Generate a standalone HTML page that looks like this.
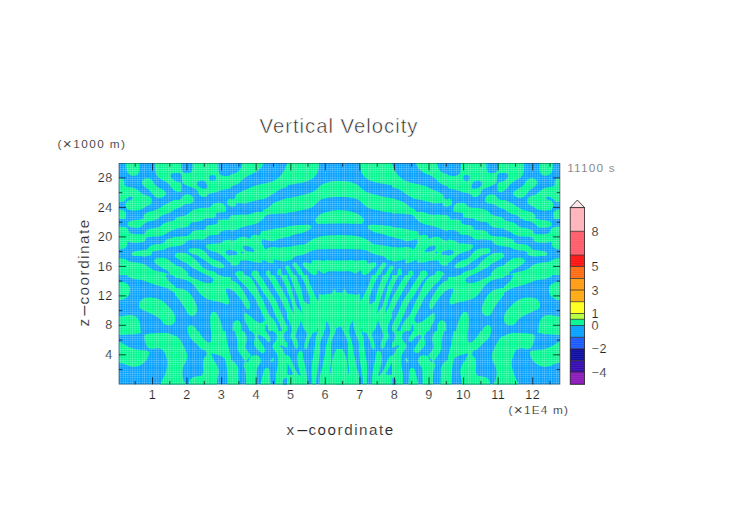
<!DOCTYPE html>
<html><head><meta charset="utf-8"><title>Vertical Velocity</title>
<style>
html,body{margin:0;padding:0;background:#fff}
body{width:752px;height:532px;overflow:hidden}
svg{display:block}
text{font-family:"Liberation Sans",sans-serif;fill:#262626;stroke:#fff;stroke-width:.16px;paint-order:fill stroke}
.t11{font-size:11.8px;letter-spacing:1.4px}
.tk{font-size:12.6px;letter-spacing:.5px}
</style></head><body>
<svg width="752" height="532" viewBox="0 0 752 532">
<defs>
<clipPath id="box"><rect x="118.6" y="163.0" width="441.4" height="221.6"/></clipPath>
<clipPath id="t0"><rect x="119" y="163" width="56" height="56"/></clipPath><clipPath id="t1"><rect x="175" y="163" width="56" height="56"/></clipPath><clipPath id="t2"><rect x="231" y="163" width="56" height="56"/></clipPath><clipPath id="t3"><rect x="287" y="163" width="56" height="56"/></clipPath><clipPath id="t4"><rect x="119" y="219" width="56" height="56"/></clipPath><clipPath id="t5"><rect x="175" y="219" width="56" height="56"/></clipPath><clipPath id="t6"><rect x="231" y="219" width="56" height="56"/></clipPath><clipPath id="t7"><rect x="287" y="219" width="56" height="56"/></clipPath><clipPath id="t8"><rect x="119" y="275" width="56" height="56"/></clipPath><clipPath id="t9"><rect x="175" y="275" width="56" height="56"/></clipPath><clipPath id="t10"><rect x="231" y="275" width="56" height="56"/></clipPath><clipPath id="t11"><rect x="287" y="275" width="56" height="56"/></clipPath><clipPath id="t12"><rect x="119" y="331" width="56" height="56"/></clipPath><clipPath id="t13"><rect x="175" y="331" width="56" height="56"/></clipPath><clipPath id="t14"><rect x="231" y="331" width="56" height="56"/></clipPath><clipPath id="t15"><rect x="287" y="331" width="56" height="56"/></clipPath>
<g id="half">
<g clip-path="url(#t0)">
<path d="M126.2 160.9L139.2 160.9C139.2 160.9 139.6 168.0 139.2 170.4C138.8 172.7 138.2 174.2 136.9 175.1C135.6 176.0 133.1 176.0 131.6 175.6C130.1 175.3 128.8 174.2 127.9 173.0C127.1 171.8 126.7 170.3 126.4 168.3C126.1 166.2 126.2 160.9 126.2 160.9Z" fill="#00f790"/>
<path d="M142.7 180.4C143.4 179.6 144.9 178.4 146.4 178.3C147.9 178.2 150.1 178.6 151.6 179.8C153.2 181.1 154.3 184.1 155.8 185.6C157.4 187.1 159.5 187.7 161.1 188.8C162.7 189.8 164.6 190.9 165.3 191.9C166.0 193.0 166.0 194.1 165.3 195.1C164.6 196.1 162.7 197.4 161.1 197.7C159.5 198.1 157.3 197.9 155.8 197.2C154.4 196.5 153.3 194.8 152.2 193.5C151.0 192.3 150.4 191.1 149.0 189.8C147.6 188.6 144.9 187.3 143.7 186.2C142.6 185.0 142.1 184.0 141.9 183.0C141.8 182.0 141.9 181.2 142.7 180.4Z" fill="#00f790"/>
<path d="M116.9 178.8C116.9 178.8 120.9 178.3 122.2 178.8C123.4 179.3 123.8 180.8 124.3 181.9C124.7 183.1 124.1 184.8 124.8 185.6C125.5 186.5 127.0 186.6 128.5 187.0C130.0 187.4 132.0 187.1 133.7 187.7C135.5 188.4 137.4 189.8 139.0 190.9C140.6 192.0 141.5 193.6 143.2 194.6C145.0 195.5 148.1 195.7 149.5 196.7C151.0 197.6 151.8 199.1 151.8 200.4C151.9 201.7 151.1 203.5 150.1 204.6C149.0 205.7 146.7 206.2 145.3 207.0C143.9 207.8 143.2 208.7 141.6 209.3C140.1 209.9 137.9 210.4 135.8 210.6C133.8 210.7 131.1 210.6 129.5 210.2C127.9 209.7 127.0 208.8 126.4 207.7C125.8 206.6 125.6 204.7 125.8 203.5C126.1 202.4 126.9 201.4 127.9 200.7C129.0 200.0 131.4 199.8 132.2 199.3C132.9 198.8 132.9 197.9 132.5 197.5C132.0 197.1 130.5 196.7 129.5 196.9C128.5 197.1 127.3 198.0 126.4 198.8C125.4 199.5 125.3 200.9 123.7 201.4C122.2 202.0 116.9 202.2 116.9 202.2L116.9 178.8Z" fill="#00f790"/>
<path d="M116.9 209.5C116.9 209.5 121.7 209.6 123.2 210.2C124.7 210.7 125.5 211.9 125.8 213.0C126.2 214.1 125.8 215.2 125.5 216.7C125.3 218.2 124.3 221.9 124.3 221.9L116.9 221.9L116.9 209.5Z" fill="#00f790"/>
<path d="M143.4 221.9C143.4 221.9 143.2 217.2 143.8 215.6C144.5 214.0 145.6 213.2 147.4 212.3C149.2 211.4 152.5 211.0 154.8 210.2C157.1 209.3 159.2 208.3 161.1 207.2C163.0 206.2 163.9 205.2 166.4 203.8C168.8 202.5 175.8 199.3 175.8 199.3L182.2 196.7L182.2 205.1L175.0 209.1C175.0 209.1 173.6 210.9 171.2 212.1C168.8 213.2 163.0 214.9 160.7 216.3C158.4 217.7 157.5 220.5 157.5 220.5L150.6 225.1L143.4 221.9Z" fill="#00f790"/>
<path d="M154.8 160.9C154.8 160.9 154.7 166.9 155.0 169.3C155.3 171.7 155.5 173.5 156.4 175.1C157.2 176.7 158.6 177.7 160.1 178.8C161.5 179.8 163.8 180.5 165.3 181.4C166.8 182.4 168.0 183.5 169.0 184.6C170.0 185.6 170.1 186.7 171.1 187.7C172.1 188.7 175.0 190.6 175.0 190.6L182.2 190.6L182.2 160.9L154.8 160.9Z" fill="#00f790"/>
<path d="M182.2 173.0C182.2 173.0 174.6 173.1 172.7 173.5C170.8 174.0 170.9 174.9 170.9 175.6C170.9 176.4 170.8 177.5 172.7 177.9C174.6 178.4 182.2 178.3 182.2 178.3L182.2 173.0Z" fill="#04a0ff"/>
<path d="M171.8 174.1C172.5 173.5 175.0 173.1 175.0 173.1L179.7 173.3L181.5 175.1L181.8 179.8L180.3 182.2L177.6 182.3L175.0 180.9C175.0 180.9 173.0 179.6 172.4 178.8C171.7 178.0 171.1 176.9 171.0 176.2C170.9 175.4 171.2 174.6 171.8 174.1Z" fill="#04a0ff"/>
</g>
<g clip-path="url(#t1)">
<path d="M172.9 160.9L238.2 160.9L238.2 188.1L231.8 188.1C231.8 188.1 225.9 189.2 223.4 189.8C221.0 190.5 219.6 191.2 217.1 191.9C214.6 192.6 210.4 193.3 208.7 194.1C206.9 194.8 207.6 196.0 206.6 196.5C205.5 196.9 203.7 197.1 202.4 196.7C201.1 196.3 199.5 195.0 198.7 194.1C197.9 193.1 198.4 191.9 197.6 190.9C196.8 189.9 195.7 189.2 193.9 188.3C192.2 187.4 188.8 186.3 186.9 185.4C185.0 184.5 183.5 183.9 182.6 182.8C181.7 181.7 183.1 179.5 181.5 178.8C179.9 178.1 172.9 178.8 172.9 178.8L172.9 160.9Z" fill="#00f790"/>
<path d="M171.8 174.1L175.0 173.1C175.0 173.1 178.6 173.0 179.7 173.3C180.8 173.6 181.2 174.0 181.5 175.1C181.9 176.2 182.1 178.7 181.8 179.8C181.6 181.0 181.0 181.8 180.3 182.2C179.6 182.6 178.5 182.5 177.6 182.3C176.8 182.1 175.0 180.9 175.0 180.9L172.4 178.8L171.0 176.2L171.8 174.1Z" fill="#04a0ff"/>
<path d="M171.8 178.8C171.8 178.8 174.8 180.9 176.3 181.5C177.7 182.2 179.6 182.1 180.5 182.6C181.4 183.1 181.3 183.7 181.5 184.6C181.7 185.4 181.7 186.7 181.6 187.7C181.6 188.8 181.6 190.3 181.1 191.0C180.6 191.7 179.6 192.0 178.4 191.9C177.2 191.9 173.9 190.9 173.9 190.9L171.8 189.3L171.8 178.8Z" fill="#00f790"/>
<path d="M181.1 159.8C181.1 159.8 181.0 166.2 181.3 168.3C181.6 170.3 182.0 171.1 182.9 171.9C183.8 172.8 185.3 173.3 186.6 173.3C187.9 173.4 189.8 173.0 190.8 172.3C191.8 171.5 192.1 170.9 192.4 168.8C192.6 166.7 192.5 159.8 192.5 159.8L181.1 159.8Z" fill="#04a0ff"/>
<path d="M218.2 159.8C218.2 159.8 218.2 167.0 218.4 169.3C218.6 171.6 218.8 172.5 219.4 173.5C220.1 174.6 221.2 175.2 222.4 175.6C223.6 176.1 225.1 176.2 226.6 176.2C228.0 176.1 231.0 175.1 231.0 175.1L238.2 174.6L238.2 159.8L218.2 159.8Z" fill="#04a0ff"/>
<path d="M209.2 177.7C209.2 177.0 209.7 176.1 210.3 175.6C210.8 175.2 211.9 174.9 212.7 174.9C213.5 174.9 214.6 175.3 215.2 175.8C215.8 176.4 216.1 177.2 216.2 177.9C216.2 178.6 215.9 179.6 215.3 180.1C214.7 180.5 213.5 180.9 212.7 180.9C211.8 180.9 210.8 180.7 210.3 180.2C209.7 179.6 209.2 178.5 209.2 177.7Z" fill="#04a0ff"/>
<path d="M197.6 181.9C198.2 181.2 199.6 180.5 200.8 180.4C202.0 180.3 203.9 180.6 205.0 181.4C206.1 182.2 206.8 184.0 207.1 185.1C207.4 186.2 207.2 187.6 206.6 188.3C206.0 188.9 204.6 189.0 203.4 188.8C202.3 188.6 200.8 187.8 199.7 187.2C198.7 186.6 197.7 186.0 197.3 185.1C197.0 184.2 197.1 182.7 197.6 181.9Z" fill="#04a0ff"/>
<path d="M172.9 200.1C172.9 200.1 177.6 200.4 179.2 199.8C180.8 199.3 181.3 197.6 182.4 196.7C183.4 195.8 184.3 194.9 185.5 194.6C186.8 194.3 188.4 194.3 189.7 194.8C191.1 195.3 192.8 196.7 193.4 197.7C194.1 198.8 194.2 199.9 193.7 200.9C193.3 201.9 192.2 203.0 190.8 203.5C189.4 204.1 187.3 203.6 185.5 204.3C183.8 204.9 182.4 206.3 180.3 207.2C178.2 208.1 172.9 209.8 172.9 209.8L172.9 200.1Z" fill="#00f790"/>
<path d="M168.7 221.9L175.0 219.4C175.0 219.4 175.5 218.1 177.5 217.3C179.5 216.5 184.7 215.7 187.0 214.7C189.3 213.6 189.4 212.1 191.2 211.0C193.1 209.9 195.1 209.0 198.2 208.4C201.2 207.8 207.1 208.1 209.7 207.3C212.4 206.5 212.0 204.3 213.9 203.6C215.9 202.9 219.4 202.6 221.3 203.1C223.2 203.6 224.6 205.4 225.3 206.8C226.0 208.2 226.4 210.7 225.5 211.6C224.7 212.6 221.8 212.1 220.3 212.5C218.7 212.8 216.9 212.8 216.1 213.6C215.2 214.4 216.9 216.4 215.0 217.3C213.1 218.2 206.6 218.0 204.5 218.9C202.4 219.8 202.4 222.6 202.4 222.6L190.8 226.2L168.7 226.2L168.7 221.9Z" fill="#00f790"/>
<path d="M238.2 198.3C238.2 198.3 231.6 198.2 229.7 198.8C227.9 199.4 227.4 200.9 227.1 201.9C226.8 203.0 227.5 204.4 228.2 205.1C228.8 205.8 231.0 206.4 231.0 206.4L238.2 206.7L238.2 198.3Z" fill="#00f790"/>
<path d="M228.3 219.8C228.3 219.8 229.2 217.3 229.8 216.7C230.5 216.1 232.4 216.2 232.4 216.2L238.2 216.2L238.2 221.9L228.3 219.8Z" fill="#00f790"/>
</g>
<g clip-path="url(#t2)">
<path d="M227.8 174.4C227.8 174.4 232.3 174.1 234.2 173.5C236.0 172.9 237.7 172.1 238.9 170.9C240.1 169.7 240.9 168.0 241.5 166.2C242.1 164.3 242.6 159.8 242.6 159.8L264.2 159.8C264.2 159.8 262.8 165.2 261.5 167.2C260.2 169.2 258.2 170.6 256.3 171.9C254.3 173.3 252.1 174.0 249.9 175.1C247.8 176.2 245.2 177.6 243.6 178.8C242.1 179.9 241.9 180.9 240.5 181.9C239.1 183.0 237.3 184.1 235.2 185.1C233.1 186.1 227.8 188.1 227.8 188.1L227.8 174.4Z" fill="#00f790"/>
<path d="M227.8 199.6C227.8 199.6 232.8 199.6 234.2 198.8C235.6 197.9 235.0 195.8 236.3 194.6C237.5 193.4 239.8 192.3 241.5 191.4C243.3 190.5 245.0 190.1 246.8 189.3C248.5 188.5 249.9 187.5 252.1 186.7C254.2 185.9 257.0 185.2 259.4 184.6C261.9 184.0 264.5 183.6 266.8 183.0C269.1 182.4 271.5 181.5 273.1 180.9C274.7 180.3 275.4 180.2 276.6 179.3C277.8 178.5 279.1 177.1 280.3 175.8C281.4 174.6 282.6 173.0 283.5 171.6C284.4 170.2 285.0 168.8 285.6 167.4C286.2 166.1 287.2 163.4 287.2 163.4L288.4 159.8L294.2 159.8L294.2 185.6L287.0 187.0C287.0 187.0 283.1 188.1 281.5 188.8C279.9 189.4 278.7 190.0 277.3 190.9C275.9 191.8 274.7 193.0 273.1 194.1C271.5 195.1 269.6 196.3 267.8 197.2C266.1 198.1 264.5 198.8 262.6 199.3C260.6 199.8 258.4 199.9 256.3 200.4C254.2 200.8 251.9 201.4 249.9 201.9C248.0 202.5 246.4 203.4 244.7 203.5C242.9 203.7 240.8 203.0 239.4 203.0C238.0 203.0 237.0 203.0 236.3 203.5C235.6 204.1 236.6 205.6 235.2 206.2C233.8 206.7 227.8 207.0 227.8 207.0L227.8 199.6Z" fill="#00f790"/>
<path d="M227.8 215.4C227.8 215.4 234.0 215.3 236.3 215.1C238.5 214.9 239.8 214.4 241.5 214.4C243.3 214.3 245.0 214.9 246.8 214.8C248.5 214.6 250.5 214.0 252.1 213.5C253.6 213.1 254.7 212.2 256.3 211.9C257.8 211.7 260.1 212.4 261.5 211.9C262.9 211.5 263.5 210.1 264.7 209.3C265.9 208.5 267.5 208.2 268.9 207.2C270.3 206.2 271.5 204.6 273.1 203.5C274.7 202.5 276.6 201.6 278.4 200.9C280.1 200.2 282.2 199.8 283.6 199.3C285.1 198.8 287.0 197.7 287.0 197.7L294.2 195.6L294.2 213.3L287.0 213.5C287.0 213.5 283.8 213.4 281.5 213.5C279.2 213.6 275.7 213.7 273.1 214.1C270.5 214.4 267.3 214.8 265.7 215.6C264.2 216.5 263.6 219.0 263.6 219.0L262.6 224.1L227.8 224.1L227.8 215.4Z" fill="#00f790"/>
</g>
<g clip-path="url(#t3)">
<path d="M283.8 167.2L290.2 159.8L319.1 159.8C319.1 159.8 318.9 166.0 318.6 168.3C318.2 170.5 317.9 171.9 317.0 173.5C316.1 175.1 314.8 176.5 313.3 177.7C311.8 179.0 310.3 180.0 308.1 180.9C305.8 181.8 302.3 182.4 299.6 183.0C297.0 183.6 294.9 184.1 292.3 184.6C289.6 185.0 283.8 185.6 283.8 185.6L283.8 167.2Z" fill="#00f790"/>
<path d="M283.8 198.8C283.8 198.8 290.5 197.7 293.3 197.2C296.1 196.7 298.2 196.2 300.7 195.6C303.1 195.0 305.8 194.3 308.1 193.5C310.3 192.7 312.6 191.9 314.4 190.9C316.1 189.8 317.2 188.4 318.6 187.2C320.0 186.1 321.0 184.9 322.8 184.1C324.5 183.2 327.0 182.4 329.1 181.9C331.2 181.5 331.9 181.3 335.4 181.1C338.9 180.9 350.2 180.9 350.2 180.9L350.2 196.7C350.2 196.7 339.1 196.7 335.4 196.9C331.7 197.1 330.3 197.3 328.1 197.7C325.8 198.1 323.5 198.5 321.7 199.3C320.0 200.1 318.9 201.3 317.5 202.5C316.1 203.6 314.9 205.1 313.3 206.2C311.7 207.2 310.2 208.1 308.1 208.8C305.9 209.5 303.1 209.8 300.7 210.4C298.2 210.9 296.1 211.5 293.3 211.9C290.5 212.4 283.8 213.0 283.8 213.0L283.8 198.8Z" fill="#00f790"/>
<path d="M314.9 226.2L315.4 220.9C315.4 220.9 316.2 218.3 317.1 217.1C318.0 215.9 319.0 214.9 321.0 213.9C323.0 213.0 326.8 212.1 328.9 211.5C330.9 211.0 329.8 210.8 333.3 210.6C336.9 210.4 350.2 210.2 350.2 210.2L350.2 226.2L314.9 226.2Z" fill="#00f790"/>
</g>
<g clip-path="url(#t4)">
<path d="M146.4 215.8C146.4 215.8 142.3 218.9 140.1 219.6C137.8 220.4 134.5 220.1 132.7 220.5C130.8 220.8 129.8 221.1 129.0 221.6C128.2 222.2 127.7 223.0 127.6 223.7C127.5 224.5 127.6 225.5 128.5 226.2C129.3 226.8 130.8 227.4 132.7 227.6C134.6 227.8 138.2 228.0 140.1 227.4C141.9 226.9 142.3 225.2 143.7 224.3C145.1 223.3 146.6 222.3 148.5 221.6C150.3 221.0 152.9 221.2 154.8 220.3C156.6 219.3 159.5 215.8 159.5 215.8L146.4 215.8Z" fill="#00f790"/>
<path d="M115.8 226.8C115.8 226.8 122.8 226.5 124.8 227.0C126.8 227.5 127.0 228.5 127.9 229.5C128.9 230.6 128.9 232.4 130.6 233.2C132.2 234.0 135.7 234.2 137.9 234.3C140.2 234.4 142.9 234.4 144.3 233.7C145.7 233.1 145.1 231.5 146.4 230.6C147.6 229.7 149.5 229.1 151.6 228.5C153.7 227.9 156.9 227.8 159.0 226.9C161.1 226.0 162.2 224.2 164.3 223.2C166.4 222.2 169.8 221.6 171.6 221.1C173.4 220.6 175.0 220.1 175.0 220.1L182.2 219.0L182.2 229.0L175.0 229.5C175.0 229.5 171.3 230.8 169.5 231.6C167.7 232.5 166.0 234.0 164.3 234.8C162.5 235.6 161.1 236.1 159.0 236.4C156.9 236.7 153.7 236.4 151.6 236.7C149.5 236.9 147.6 237.1 146.4 237.9C145.1 238.8 145.7 240.8 144.3 241.6C142.9 242.4 140.1 242.5 137.9 242.7C135.8 242.9 133.4 242.9 131.6 242.7C129.9 242.5 128.2 241.2 127.4 241.6C126.6 242.1 127.4 244.2 126.9 245.3C126.4 246.5 126.1 247.7 124.3 248.5C122.4 249.2 115.8 249.7 115.8 249.7L115.8 226.8Z" fill="#00f790"/>
<path d="M131.8 254.3C131.9 253.6 132.4 252.2 133.7 251.6C135.1 251.0 137.9 250.9 140.1 250.6C142.2 250.2 144.6 250.3 146.4 249.5C148.1 248.7 149.0 246.7 150.6 245.8C152.2 245.0 153.7 244.7 155.8 244.3C157.9 243.8 161.5 244.0 163.2 243.2C165.0 242.4 165.0 240.4 166.4 239.5C167.8 238.6 170.2 238.4 171.6 237.9C173.1 237.5 175.0 237.1 175.0 237.1L182.2 236.4L182.2 245.8L175.0 246.4C175.0 246.4 170.3 246.9 168.5 247.4C166.7 247.9 165.8 249.0 164.3 249.5C162.7 250.1 160.9 250.2 159.0 250.6C157.1 250.9 154.1 250.8 152.7 251.6C151.3 252.4 152.0 254.5 150.6 255.3C149.2 256.1 146.5 256.2 144.3 256.4C142.0 256.5 138.7 256.1 136.9 256.1C135.1 256.0 134.1 256.1 133.2 255.8C132.4 255.5 131.8 255.0 131.8 254.3Z" fill="#00f790"/>
<path d="M115.8 258.2C115.8 258.2 122.0 258.2 124.3 258.8C126.5 259.4 127.4 261.0 129.5 261.6C131.6 262.3 134.4 262.2 136.9 262.7C139.4 263.1 142.0 263.3 144.3 264.3C146.5 265.2 148.5 267.3 150.6 268.5C152.7 269.6 154.6 270.4 156.9 271.1C159.2 271.8 162.2 272.0 164.3 272.7C166.4 273.3 169.5 275.0 169.5 275.0L173.7 280.1L115.8 280.1L115.8 258.2Z" fill="#00f790"/>
<path d="M154.3 260.1C154.6 259.3 155.4 258.5 156.9 258.2C158.4 257.8 161.5 257.8 163.2 257.9C165.0 258.1 165.7 258.1 167.4 259.0C169.1 259.9 171.8 262.4 173.3 263.5C174.8 264.7 176.4 265.8 176.4 265.8L182.2 269.5L182.2 280.1L171.6 280.1C171.6 280.1 169.9 273.6 168.5 271.6C167.1 269.7 165.0 269.5 163.2 268.5C161.5 267.4 159.4 266.3 157.9 265.3C156.5 264.4 155.4 263.6 154.8 262.7C154.2 261.8 153.9 260.8 154.3 260.1Z" fill="#00f790"/>
</g>
<g clip-path="url(#t5)">
<path d="M171.8 215.8L205.0 215.8C205.0 215.8 204.7 219.1 203.4 220.1C202.1 221.1 199.1 221.4 197.1 221.8C195.1 222.3 192.8 222.0 191.3 222.7C189.8 223.4 189.8 225.3 188.2 226.2C186.5 227.0 184.0 227.5 181.3 227.9C178.6 228.4 171.8 229.0 171.8 229.0L171.8 215.8Z" fill="#00f790"/>
<path d="M171.8 236.7C171.8 236.7 178.5 236.6 181.3 236.4C184.1 236.1 186.8 236.1 188.7 235.3C190.5 234.5 190.8 232.5 192.4 231.6C193.9 230.8 196.1 230.4 198.2 230.1C200.2 229.7 203.0 230.4 204.5 229.7C206.0 229.0 205.7 226.7 207.1 225.8C208.5 225.0 211.2 225.2 212.9 224.8C214.6 224.4 216.2 224.2 217.1 223.4C218.0 222.7 217.4 220.9 218.4 220.3C219.4 219.6 221.4 219.8 223.0 219.6C224.6 219.5 227.1 219.8 228.3 219.3C229.4 218.8 229.8 216.7 229.8 216.7L231.0 215.8L238.2 215.8L238.2 229.5L231.0 230.1C231.0 230.1 226.3 230.2 224.5 230.6C222.7 230.9 221.3 231.5 220.3 232.2C219.2 232.9 219.7 234.3 218.2 234.8C216.6 235.3 212.7 234.9 210.8 235.3C208.9 235.8 207.8 236.7 206.6 237.4C205.4 238.1 205.4 239.2 203.4 239.5C201.5 239.9 197.6 239.4 195.0 239.5C192.4 239.7 189.4 239.9 187.6 240.6C185.9 241.3 185.9 242.9 184.5 243.7C183.1 244.6 181.3 245.4 179.2 245.8C177.1 246.3 171.8 246.6 171.8 246.6L171.8 236.7Z" fill="#00f790"/>
<path d="M206.6 244.8C207.5 244.1 209.6 244.0 211.8 243.7C214.1 243.5 218.2 243.7 220.3 243.2C222.4 242.7 222.7 241.2 224.5 240.6C226.3 240.0 231.0 239.5 231.0 239.5L238.2 239.0L238.2 265.3L231.0 263.2C231.0 263.2 229.1 262.3 227.6 261.1C226.2 259.9 224.1 257.2 222.4 255.8C220.6 254.4 219.2 253.6 217.1 252.7C215.0 251.8 211.5 251.4 209.7 250.6C207.9 249.7 206.9 248.6 206.4 247.6C205.8 246.7 205.7 245.4 206.6 244.8Z" fill="#00f790"/>
<path d="M238.2 249.7C238.2 249.7 230.8 249.7 228.7 250.1C226.6 250.4 225.9 250.9 225.5 251.6C225.2 252.3 225.7 253.6 226.6 254.3C227.5 255.0 231.0 255.8 231.0 255.8L238.2 256.9L238.2 249.7Z" fill="#04a0ff"/>
<path d="M188.7 250.1C188.9 249.4 189.2 248.5 190.8 248.3C192.4 248.0 196.1 248.1 198.2 248.5C200.3 248.9 202.0 249.7 203.4 250.6C204.8 251.5 205.4 252.5 206.6 253.7C207.8 255.0 209.0 256.8 210.8 257.9C212.5 259.1 215.2 259.6 217.1 260.6C219.0 261.5 221.1 262.8 222.4 263.7C223.6 264.7 224.5 265.7 224.5 266.4C224.5 267.1 223.6 267.7 222.4 267.9C221.1 268.2 218.9 268.1 217.1 267.6C215.4 267.2 213.6 266.3 211.8 265.3C210.1 264.3 208.3 262.8 206.6 261.6C204.8 260.5 202.9 259.5 201.3 258.5C199.7 257.4 198.7 256.1 197.1 255.3C195.5 254.5 193.2 254.3 191.8 253.7C190.5 253.2 189.7 252.8 189.2 252.2C188.7 251.5 188.4 250.7 188.7 250.1Z" fill="#00f790"/>
<path d="M174.8 255.1C174.8 255.1 175.7 253.3 177.5 253.0C179.4 252.7 183.5 252.8 185.9 253.5C188.4 254.2 190.3 255.9 192.3 257.2C194.2 258.5 195.7 259.7 197.5 261.4C199.3 263.2 201.0 266.2 203.0 267.7C205.0 269.3 207.7 269.8 209.7 270.6C211.7 271.3 213.6 271.4 215.0 272.2C216.4 272.9 218.2 275.0 218.2 275.0L221.3 281.1L210.8 281.1L206.8 275.1C206.8 275.1 203.3 273.4 201.5 272.5C199.8 271.6 198.0 270.8 196.3 269.8C194.5 268.9 192.5 267.9 191.0 266.9C189.5 265.8 188.7 264.6 187.0 263.5C185.3 262.4 182.6 261.5 180.7 260.4C178.8 259.3 176.4 257.8 175.4 256.9C174.4 256.0 174.8 255.1 174.8 255.1Z" fill="#00f790"/>
<path d="M171.8 265.1C171.8 265.1 177.1 265.6 179.2 266.4C181.3 267.1 183.0 268.3 184.5 269.5C186.0 270.8 187.3 271.8 188.2 273.7C189.0 275.7 189.7 281.1 189.7 281.1L171.8 281.1L171.8 265.1Z" fill="#00f790"/>
</g>
<g clip-path="url(#t6)">
<path d="M227.8 215.8L263.8 215.8L262.6 219.0C262.6 219.0 260.8 221.3 259.4 222.2C258.0 223.0 256.1 223.6 254.2 224.3C252.2 224.9 249.9 225.3 247.8 225.8C245.7 226.4 243.6 226.7 241.5 227.4C239.4 228.1 237.5 229.3 235.2 230.1C232.9 230.8 227.8 232.2 227.8 232.2L227.8 215.8Z" fill="#00f790"/>
<path d="M227.8 241.6C227.8 241.6 233.3 240.8 235.2 240.1C237.1 239.4 237.8 237.9 239.4 237.4C241.0 236.9 242.9 236.7 244.7 236.9C246.4 237.1 248.8 238.6 249.9 238.5C251.1 238.3 250.6 236.5 251.5 235.8C252.4 235.2 253.9 234.9 255.2 234.8C256.5 234.7 258.4 235.8 259.4 235.3C260.5 234.8 260.3 232.4 261.5 231.6C262.8 230.8 264.9 231.0 266.8 230.6C268.7 230.1 271.0 229.4 273.1 229.0C275.2 228.6 277.1 228.3 279.4 227.9C281.7 227.6 287.0 226.9 287.0 226.9L294.2 226.4L294.2 236.4L287.0 237.1C287.0 237.1 282.3 238.2 280.5 238.7C278.7 239.1 277.5 239.4 276.3 239.8C275.0 240.3 274.5 241.2 273.1 241.3C271.7 241.4 269.5 240.9 267.8 240.6C266.2 240.2 264.1 239.1 263.1 239.3C262.1 239.5 261.8 240.7 261.7 241.6C261.6 242.6 261.9 243.8 262.6 245.1C263.2 246.4 264.9 249.1 265.7 249.5C266.6 250.0 266.6 248.4 267.8 247.9C269.1 247.5 271.4 246.9 273.1 246.9C274.9 246.8 276.6 247.6 278.4 247.6C280.1 247.6 282.2 247.0 283.6 246.9C285.1 246.8 287.0 247.2 287.0 247.2L294.2 247.4L294.2 261.1L287.0 261.1C287.0 261.1 285.1 261.7 283.6 261.6C282.2 261.5 279.9 260.9 278.4 260.6C276.8 260.2 275.0 259.1 274.2 259.5C273.3 260.0 274.2 262.8 273.1 263.2C272.1 263.6 269.6 262.7 267.8 262.2C266.1 261.6 263.6 260.0 262.6 260.1C261.5 260.1 262.9 262.3 261.5 262.7C260.1 263.0 256.1 262.4 254.2 262.2C252.2 261.9 251.7 261.4 249.9 261.1C248.2 260.8 245.2 260.6 243.6 260.6C242.1 260.6 241.5 260.3 240.5 261.1C239.4 261.9 239.4 264.6 237.3 265.3C235.2 266.0 227.8 265.3 227.8 265.3L227.8 241.6Z" fill="#00f790"/>
<path d="M227.8 250.6C227.8 250.6 232.6 250.4 234.2 250.8C235.7 251.1 237.0 252.0 237.3 252.7C237.7 253.4 237.8 254.4 236.3 254.8C234.7 255.2 227.8 255.3 227.8 255.3L227.8 250.6Z" fill="#04a0ff"/>
<path d="M243.1 246.6C243.5 245.9 245.5 245.7 246.8 245.8C248.1 246.0 249.8 246.6 251.0 247.4C252.2 248.2 253.8 249.8 254.2 250.6C254.5 251.4 254.2 252.0 253.3 252.2C252.4 252.3 250.3 252.0 248.9 251.6C247.5 251.3 245.6 250.9 244.7 250.1C243.7 249.2 242.8 247.3 243.1 246.6Z" fill="#04a0ff"/>
<path d="M241.5 252.4L243.1 252.4" fill="none" stroke="#04a0ff" stroke-width="1.5" stroke-linecap="round" stroke-linejoin="round"/>
<path d="M234.2 280.1C234.2 280.1 234.3 274.7 235.2 273.2C236.1 271.7 238.0 271.2 239.4 271.1C240.8 271.0 242.8 271.2 243.6 272.7C244.5 274.2 244.7 280.1 244.7 280.1L234.2 280.1Z" fill="#00f790"/>
<path d="M251.0 280.1C251.0 280.1 251.4 273.7 252.1 272.2C252.8 270.6 254.1 270.5 255.2 270.6C256.4 270.7 258.2 271.1 258.9 272.7C259.6 274.3 259.4 280.1 259.4 280.1L251.0 280.1Z" fill="#00f790"/>
<path d="M265.2 280.1C265.2 280.1 265.7 273.2 266.3 271.6C266.8 270.1 267.7 270.5 268.4 270.6C269.1 270.7 270.0 270.6 270.5 272.2C270.9 273.7 271.0 280.1 271.0 280.1L265.2 280.1Z" fill="#00f790"/>
<path d="M276.8 280.1C276.8 280.1 277.1 272.5 277.5 270.6C278.0 268.6 278.8 268.5 279.4 268.5C280.1 268.5 280.9 268.6 281.3 270.6C281.8 272.5 282.1 280.1 282.1 280.1L276.8 280.1Z" fill="#00f790"/>
<path d="M287.4 267.6C288.0 268.7 289.7 271.6 290.9 273.8C292.1 276.1 293.9 280.1 294.5 281.3" fill="none" stroke="#00f790" stroke-width="4.2" stroke-linecap="round" stroke-linejoin="round"/>
</g>
<g clip-path="url(#t7)">
<path d="M315.2 215.8C315.2 215.8 315.0 219.8 315.4 221.1C315.8 222.4 316.1 223.3 317.5 223.7C318.9 224.2 321.0 223.9 323.8 223.8C326.6 223.8 330.0 223.6 334.4 223.5C338.8 223.4 350.2 223.2 350.2 223.2L350.2 215.8L315.2 215.8Z" fill="#00f790"/>
<path d="M283.8 226.9C283.8 226.9 289.6 226.1 292.3 225.8C294.9 225.5 297.0 225.3 299.6 225.1C302.3 224.9 306.1 224.6 308.1 224.8C310.0 225.0 310.8 225.8 311.2 226.4C311.6 227.0 311.2 227.8 310.7 228.5C310.2 229.2 309.4 229.9 308.1 230.6C306.7 231.3 304.5 232.2 302.8 232.7C301.0 233.2 299.3 233.3 297.5 233.7C295.8 234.2 293.7 234.8 292.3 235.3C290.9 235.8 290.5 236.4 289.1 236.7C287.7 236.9 283.8 236.9 283.8 236.9L283.8 226.9Z" fill="#00f790"/>
<path d="M283.8 247.4C283.8 247.4 287.9 246.7 290.2 246.4C292.4 246.0 295.1 245.7 297.5 245.3C300.0 245.0 303.0 244.9 304.9 244.3C306.8 243.6 307.7 242.5 309.1 241.6C310.5 240.8 311.7 239.8 313.3 239.0C314.9 238.2 316.6 237.4 318.6 236.9C320.5 236.4 322.6 236.1 324.9 235.8C327.2 235.6 328.1 235.4 332.3 235.3C336.5 235.2 350.2 235.1 350.2 235.1L350.2 249.0C350.2 249.0 336.6 249.0 332.3 249.0C327.9 249.0 326.3 249.1 323.8 249.2C321.4 249.3 319.5 249.3 317.5 249.5C315.6 249.8 313.8 250.1 312.3 250.6C310.7 251.1 309.6 252.0 308.1 252.7C306.5 253.4 304.5 254.3 302.8 254.8C301.0 255.3 299.1 255.4 297.5 255.8C295.9 256.3 294.4 256.7 293.3 257.4C292.3 258.1 292.8 259.5 291.2 260.1C289.6 260.6 283.8 260.6 283.8 260.6L283.8 247.4Z" fill="#00f790"/>
<path d="M287.4 267.6C288.0 268.7 289.7 271.6 290.9 273.8C292.1 276.1 293.9 280.1 294.5 281.3" fill="none" stroke="#00f790" stroke-width="4.2" stroke-linecap="round" stroke-linejoin="round"/>
<path d="M295.0 264.7C295.6 265.5 297.2 267.4 298.5 269.5C299.8 271.7 301.9 275.7 302.9 277.5C303.9 279.4 304.0 280.1 304.3 280.6" fill="none" stroke="#00f790" stroke-width="4.4" stroke-linecap="round" stroke-linejoin="round"/>
<path d="M302.8 264.1C302.8 263.4 303.0 262.5 303.8 262.4C304.7 262.2 306.8 262.8 308.1 263.0C309.3 263.2 310.4 263.9 311.2 263.5C312.0 263.1 311.6 261.1 312.8 260.6C314.0 260.0 316.7 260.2 318.6 260.3C320.4 260.3 322.4 260.9 323.8 260.9C325.2 260.9 325.6 260.1 327.0 260.1C328.4 260.0 328.4 260.5 332.3 260.6C336.1 260.7 350.2 260.6 350.2 260.6L350.2 271.2C350.2 271.2 340.3 271.2 337.0 271.2C333.7 271.2 332.3 271.1 330.6 271.2C328.9 271.3 328.0 271.6 326.9 271.9C325.8 272.3 324.9 273.4 323.8 273.4C322.8 273.4 321.8 272.4 320.8 271.9C319.8 271.5 318.5 270.2 317.8 270.5C317.2 270.8 317.7 273.1 317.1 273.8C316.5 274.6 314.1 275.1 314.1 275.1C314.1 275.1 311.5 274.1 310.3 273.1C309.0 272.1 307.7 270.5 306.6 269.3C305.5 268.2 304.2 267.1 303.5 266.3C302.9 265.4 302.7 264.7 302.8 264.1Z" fill="#00f790"/>
</g>
<g clip-path="url(#t8)">
<path d="M126.4 271.8L126.9 275.0C126.9 275.0 127.7 276.6 129.0 277.3C130.3 278.0 132.6 278.8 134.8 279.2C137.0 279.6 139.9 279.4 142.2 279.9C144.4 280.5 146.2 281.5 148.5 282.4C150.8 283.2 153.4 284.2 155.8 285.0C158.3 285.8 161.1 286.5 163.2 287.1C165.3 287.8 166.5 287.9 168.5 288.9C170.4 289.9 175.0 292.9 175.0 292.9L182.2 298.7L182.2 290.8L175.0 286.1C175.0 286.1 172.9 284.6 171.6 283.4C170.4 282.3 168.6 281.1 167.4 279.2C166.2 277.3 164.3 271.8 164.3 271.8L126.4 271.8Z" fill="#00f790"/>
<path d="M115.8 281.8C115.8 281.8 121.2 281.7 123.2 282.2C125.2 282.6 126.8 283.4 127.9 284.5C129.1 285.6 129.8 287.2 130.1 288.7C130.3 290.2 130.1 291.9 129.5 293.4C128.9 294.9 127.6 296.6 126.4 297.6C125.1 298.7 123.9 299.2 122.2 299.7C120.4 300.3 115.8 300.8 115.8 300.8L115.8 281.8Z" fill="#00f790"/>
<path d="M139.0 305.5C139.0 304.4 139.2 302.5 140.1 301.3C140.9 300.1 142.5 298.8 144.3 298.2C146.0 297.5 148.3 297.3 150.6 297.4C152.9 297.5 155.7 297.9 157.9 298.7C160.2 299.5 162.3 300.9 164.3 302.4C166.2 303.9 167.9 305.9 169.5 307.6C171.1 309.4 172.7 311.0 173.7 312.9C174.8 314.8 175.8 319.2 175.8 319.2C175.8 319.2 174.8 322.4 173.7 323.4C172.7 324.4 171.1 325.2 169.5 325.3C167.9 325.4 165.7 324.8 164.3 323.9C162.9 323.1 162.5 321.6 161.1 320.3C159.7 318.9 157.8 317.3 155.8 316.1C153.9 314.8 151.6 313.9 149.5 312.9C147.4 311.9 144.8 311.1 143.2 310.3C141.6 309.5 140.8 308.9 140.1 308.2C139.4 307.4 139.0 306.7 139.0 305.5Z" fill="#00f790"/>
<path d="M115.8 316.6C115.8 316.6 120.9 316.3 123.2 316.1C125.5 315.8 127.6 315.0 129.5 315.0C131.5 315.0 133.3 315.3 134.8 316.1C136.3 316.8 137.6 318.3 138.5 319.7C139.4 321.1 139.7 322.6 140.1 324.5C140.4 326.4 140.6 331.0 140.6 331.0L140.6 337.1L115.8 337.1L115.8 316.6Z" fill="#00f790"/>
<path d="M165.3 270.8L169.5 273.7C169.5 273.7 172.8 275.7 174.2 276.3C175.6 276.9 177.9 277.3 177.9 277.3L184.3 278.2L184.3 270.8L165.3 270.8Z" fill="#00f790"/>
</g>
<g clip-path="url(#t9)">
<path d="M171.8 271.8L185.0 271.8L186.9 275.0C186.9 275.0 189.4 276.2 191.0 276.9C192.6 277.6 194.5 278.6 196.3 279.3C198.0 280.1 199.8 280.8 201.5 281.4C203.3 282.0 205.0 282.8 206.8 283.0C208.5 283.2 210.9 282.9 212.1 282.5C213.2 282.1 213.6 281.4 213.6 280.6C213.6 279.8 213.2 278.6 212.1 277.7C210.9 276.8 208.4 276.1 206.8 275.1C205.2 274.1 202.4 271.8 202.4 271.8L238.2 271.8L238.2 289.2L231.0 289.2C231.0 289.2 227.4 288.0 226.6 288.5C225.8 288.9 225.8 290.4 226.1 291.8C226.3 293.3 227.6 295.5 228.2 297.1C228.7 298.7 229.3 300.1 229.2 301.3C229.1 302.6 228.9 304.5 227.6 304.7C226.3 304.9 223.6 303.2 221.3 302.6C219.0 301.9 216.4 301.5 213.9 300.9C211.5 300.2 208.7 299.7 206.6 298.7C204.5 297.7 202.9 296.5 201.3 295.0C199.7 293.5 198.3 291.3 197.1 289.7C195.9 288.2 195.4 286.9 193.9 285.5C192.5 284.1 190.8 282.4 188.7 281.3C186.6 280.2 184.1 279.5 181.3 278.8C178.5 278.1 171.8 277.3 171.8 277.3L171.8 271.8Z" fill="#00f790"/>
<path d="M216.6 272.9C216.6 272.9 220.0 275.5 222.4 276.3C224.8 277.0 231.0 277.3 231.0 277.3L238.2 277.1L238.2 270.8L216.6 272.9Z" fill="#04a0ff"/>
<path d="M171.8 287.6C171.8 287.6 176.1 287.8 178.2 288.2C180.3 288.5 182.5 288.9 184.5 289.7C186.4 290.6 188.2 291.8 189.7 293.4C191.3 295.0 192.8 297.2 193.9 299.2C195.1 301.2 196.1 303.6 196.6 305.5C197.1 307.5 197.4 309.2 197.1 310.8C196.8 312.4 196.1 314.2 195.0 315.0C193.9 315.8 192.0 316.2 190.8 315.8C189.6 315.5 188.7 314.3 187.6 312.9C186.6 311.5 185.7 309.6 184.5 307.6C183.2 305.7 181.7 303.2 180.3 301.3C178.9 299.4 177.5 297.5 176.1 296.1C174.6 294.6 171.8 292.9 171.8 292.9L171.8 287.6Z" fill="#00f790"/>
<path d="M210.3 317.1C210.4 315.4 210.7 314.3 211.3 313.4C211.9 312.5 213.0 311.8 213.9 311.8C214.9 311.9 216.1 312.7 217.1 313.9C218.1 315.2 218.9 317.3 219.7 319.2C220.5 321.1 221.3 323.6 221.8 325.5C222.4 327.5 222.9 331.0 222.9 331.0L223.4 337.1L211.3 337.1L210.8 331.0C210.8 331.0 210.4 325.7 210.3 323.4C210.2 321.1 210.1 318.8 210.3 317.1Z" fill="#00f790"/>
<path d="M187.6 331.0C187.6 331.0 187.6 328.1 188.2 327.1C188.7 326.1 189.8 325.1 190.8 325.0C191.8 324.9 193.0 325.8 193.9 326.6C194.9 327.4 196.0 328.0 196.6 329.7C197.2 331.5 197.6 337.1 197.6 337.1L187.1 337.1L187.6 331.0Z" fill="#00f790"/>
</g>
<g clip-path="url(#t10)">
<path d="M227.8 279.7C227.8 279.7 232.2 280.4 234.2 281.3C236.1 282.3 237.8 283.8 239.4 285.5C241.0 287.3 242.2 289.6 243.6 291.8C245.0 294.1 246.8 297.1 247.8 299.2C248.9 301.3 249.7 303.0 249.9 304.5C250.2 306.0 249.9 307.4 249.4 308.2C249.0 308.9 248.1 309.6 247.3 309.2C246.5 308.8 245.6 307.0 244.7 305.5C243.7 304.0 242.8 302.0 241.5 300.3C240.3 298.5 238.7 296.6 237.3 295.0C235.9 293.4 234.7 291.8 233.1 290.8C231.5 289.8 227.8 289.2 227.8 289.2L227.8 279.7Z" fill="#00f790"/>
<path d="M241.5 271.8L245.0 275.0C245.0 275.0 248.2 275.9 249.6 277.0C251.1 278.1 252.6 280.0 253.7 281.7C254.9 283.5 255.7 285.6 256.7 287.5C257.6 289.5 258.4 291.4 259.4 293.4C260.4 295.5 261.7 297.8 262.6 299.7C263.5 301.6 264.1 303.1 264.9 304.9C265.7 306.7 266.4 308.9 267.2 310.7C268.0 312.4 268.6 314.1 269.6 315.4C270.6 316.8 272.1 317.7 273.1 318.9C274.1 320.1 274.7 321.1 275.4 322.4C276.1 323.6 276.7 325.2 277.2 326.5C277.7 327.8 278.1 328.3 278.4 330.1C278.6 331.8 278.9 337.1 278.9 337.1L268.4 337.1C268.4 337.1 268.5 332.0 268.4 330.1C268.2 328.1 267.8 326.4 267.3 325.5C266.9 324.6 266.1 324.4 265.7 324.8C265.4 325.1 265.3 325.6 265.2 327.6C265.1 329.7 265.2 337.1 265.2 337.1L249.1 337.1C249.1 337.1 249.4 332.0 249.1 330.1C248.8 328.1 248.0 326.7 247.3 325.3C246.6 323.9 245.5 322.9 245.0 321.5C244.5 320.2 244.2 318.6 244.2 317.1C244.2 315.6 244.3 313.2 245.0 312.8C245.7 312.4 247.2 313.9 248.5 314.8C249.7 315.7 251.2 317.1 252.6 318.3C253.9 319.4 255.3 320.7 256.7 321.5C258.1 322.3 259.6 322.9 260.8 323.0C262.0 323.1 263.1 322.5 263.7 321.8C264.4 321.2 264.8 320.2 264.6 318.9C264.4 317.6 263.3 315.8 262.6 314.3C261.9 312.7 261.1 311.1 260.3 309.5C259.5 308.0 258.6 306.5 257.8 304.9C257.1 303.3 256.6 301.4 255.7 299.7C254.9 298.1 253.6 296.5 252.6 295.0C251.5 293.5 250.7 292.4 249.4 290.8C248.2 289.2 246.7 287.3 245.0 285.5C243.3 283.8 241.2 282.5 239.4 280.3C237.6 278.0 234.2 271.8 234.2 271.8L241.5 271.8Z" fill="#00f790"/>
<path d="M253.8 272.9C254.6 273.9 257.0 276.7 258.5 278.8C259.9 280.8 261.2 283.0 262.6 285.2C263.9 287.4 265.4 290.1 266.7 292.2C268.0 294.2 269.4 296.0 270.5 297.6C271.5 299.2 272.3 300.4 273.1 301.8C273.9 303.3 274.5 304.9 275.2 306.6C275.9 308.2 276.6 310.2 277.3 311.8C278.0 313.5 278.7 314.8 279.5 316.6C280.3 318.3 281.3 320.7 282.1 322.4C282.8 324.0 283.3 325.2 283.8 326.5C284.4 327.8 284.6 328.3 285.1 330.1C285.6 331.8 286.5 335.9 286.8 337.1" fill="none" stroke="#00f790" stroke-width="6.1" stroke-linecap="round" stroke-linejoin="round"/>
<path d="M268.4 272.9C269.0 273.7 270.8 275.9 271.9 277.6C273.1 279.4 274.3 281.5 275.4 283.5C276.6 285.6 277.7 287.8 278.9 289.9C280.1 292.1 281.4 294.4 282.4 296.3C283.4 298.1 284.0 299.3 284.8 301.0C285.6 302.7 286.5 304.8 287.3 306.6C288.2 308.4 289.2 310.1 289.9 311.8C290.7 313.6 291.7 316.2 292.1 317.1" fill="none" stroke="#00f790" stroke-width="5.9" stroke-linecap="round" stroke-linejoin="round"/>
<path d="M279.5 269.9C280.1 270.7 281.9 273.0 283.0 274.7C284.1 276.4 284.9 278.0 285.9 279.9C286.9 281.9 288.0 284.2 289.0 286.4C290.0 288.5 291.5 291.8 292.1 292.9" fill="none" stroke="#00f790" stroke-width="5.9" stroke-linecap="round" stroke-linejoin="round"/>
<path d="M232.6 337.1C232.6 337.1 232.5 327.1 232.9 324.5C233.2 321.8 233.9 322.0 234.7 321.3C235.5 320.6 236.6 320.0 237.5 320.3C238.5 320.5 239.8 321.7 240.5 322.9C241.1 324.1 241.3 325.3 241.5 327.6C241.8 330.0 242.1 337.1 242.1 337.1L232.6 337.1Z" fill="#00f790"/>
</g>
<g clip-path="url(#t11)">
<path d="M281.7 269.7L355.4 269.7L355.4 343.4L281.7 343.4L281.7 269.7Z" fill="#00f790"/>
<path d="M283.8 285.5L287.0 290.3C287.0 290.3 288.5 293.7 289.2 295.5C289.9 297.3 290.6 299.0 291.2 301.0C291.8 303.0 292.3 305.5 292.8 307.6C293.2 309.8 294.0 313.4 293.9 313.9C293.9 314.5 292.9 311.8 292.3 310.8C291.6 309.7 290.8 309.0 290.2 307.6C289.5 306.2 289.0 303.8 288.5 302.4C287.9 301.0 287.0 299.3 287.0 299.3L283.8 295.0L283.8 285.5Z" fill="#04a0ff"/>
<path d="M283.8 271.8L288.5 273.0C288.5 273.0 290.5 278.0 291.5 280.5C292.5 283.0 293.5 285.4 294.5 288.1C295.5 290.7 296.6 293.8 297.5 296.3C298.4 298.8 299.1 301.0 299.7 303.1C300.4 305.2 300.8 307.3 301.2 309.1C301.6 310.9 302.6 313.6 302.4 313.7C302.1 313.8 300.5 310.9 299.6 309.7C298.7 308.6 297.9 308.5 297.0 306.8C296.1 305.1 295.3 301.8 294.5 299.3C293.7 296.8 293.0 294.4 292.3 291.8C291.5 289.3 290.9 286.6 290.1 284.3C289.2 281.9 287.0 277.8 287.0 277.8L283.8 273.9L283.8 271.8Z" fill="#04a0ff"/>
<path d="M295.3 271.8C295.3 271.8 296.7 277.3 297.5 279.7C298.3 282.2 299.4 284.2 300.2 286.6C301.0 289.0 301.7 291.7 302.4 294.1C303.0 296.4 303.2 299.3 303.9 300.8C304.7 302.3 306.1 302.6 307.0 303.2C307.9 303.8 308.9 304.6 309.3 304.3C309.8 303.9 309.7 302.4 309.7 301.3C309.8 300.2 309.9 299.4 309.5 297.8C309.2 296.3 308.4 294.1 307.6 291.8C306.9 289.6 305.9 286.5 305.0 284.3C304.1 282.0 303.0 280.3 302.1 278.3C301.1 276.2 299.4 271.8 299.4 271.8L295.3 271.8Z" fill="#04a0ff"/>
<path d="M306.2 271.8C306.2 271.8 308.0 278.0 308.8 280.5C309.6 282.9 310.2 284.7 311.0 286.6C311.8 288.5 312.6 290.2 313.3 291.8C314.1 293.5 314.7 294.8 315.5 296.3C316.3 297.8 317.6 300.6 318.2 300.8C318.7 301.0 318.5 298.8 318.6 297.6C318.7 296.5 318.8 294.7 318.9 294.1C319.0 293.4 318.7 293.5 319.3 293.6C319.9 293.8 321.1 294.7 322.4 294.8C323.6 294.9 325.2 294.4 326.8 294.1C328.4 293.7 330.9 293.6 332.1 292.9C333.2 292.2 333.1 290.5 333.6 289.9C334.1 289.4 334.7 289.2 335.1 289.5C335.5 289.9 335.5 291.6 336.3 292.2C337.0 292.7 337.3 292.6 339.6 292.6C341.9 292.5 350.2 291.8 350.2 291.8L350.2 271.8L306.2 271.8Z" fill="#04a0ff"/>
<path d="M283.8 317.1L287.0 317.9C287.0 317.9 288.5 319.9 289.2 321.3C289.9 322.8 290.7 325.0 291.1 326.6C291.5 328.2 291.5 331.0 291.5 331.0L291.2 338.2L283.8 338.2L283.8 317.1Z" fill="#04a0ff"/>
<path d="M300.9 320.9C301.3 320.1 301.3 320.2 301.6 321.3C302.0 322.4 302.5 325.7 303.1 327.3C303.7 328.9 305.0 331.0 305.0 331.0L306.5 338.2L295.4 338.2L296.8 331.0C296.8 331.0 298.3 327.5 299.0 325.8C299.7 324.2 300.5 321.6 300.9 320.9Z" fill="#04a0ff"/>
<path d="M317.4 328.3C317.7 327.8 317.9 328.8 317.9 329.7C318.0 330.7 317.8 333.9 317.8 333.9L317.0 338.2L312.3 338.2L313.3 334.1L316.4 332.6C316.4 332.6 317.2 328.7 317.4 328.3Z" fill="#04a0ff"/>
<path d="M326.5 320.9C326.7 319.9 326.5 320.5 326.9 321.3C327.3 322.1 328.5 324.2 329.1 325.8C329.7 327.5 330.3 331.0 330.3 331.0L331.2 338.2L321.7 338.2L323.8 333.3C323.8 333.3 324.9 329.4 325.3 327.3C325.8 325.2 326.2 321.9 326.5 320.9Z" fill="#04a0ff"/>
<path d="M335.4 338.2L335.9 331.8C335.9 331.8 337.0 328.5 337.5 327.6C338.0 326.7 338.4 326.5 338.9 326.4C339.4 326.3 340.0 326.7 340.7 327.1C341.4 327.5 343.0 328.7 343.0 328.7L350.2 329.7L350.2 338.2L335.4 338.2Z" fill="#04a0ff"/>
<path d="M335.1 326.6L335.2 327.0" fill="none" stroke="#04a0ff" stroke-width="0.8" stroke-linecap="round" stroke-linejoin="round"/>
</g>
<g clip-path="url(#t12)">
<path d="M115.8 327.8L141.9 327.8L141.6 331.0C141.6 331.0 141.2 332.6 140.1 333.1C138.9 333.6 137.2 333.9 134.8 334.2C132.3 334.4 128.5 334.5 125.3 334.7C122.2 334.9 115.8 335.2 115.8 335.2L115.8 327.8Z" fill="#00f790"/>
<path d="M115.8 341.0C115.8 341.0 119.4 341.8 121.1 342.6C122.9 343.4 124.4 344.8 126.4 345.7C128.3 346.7 130.4 347.7 132.7 348.4C135.0 349.1 137.8 349.6 140.1 349.9C142.3 350.3 144.9 350.1 146.4 350.5C147.9 350.8 148.6 351.1 149.0 352.1C149.4 353.0 149.0 354.8 148.5 356.3C147.9 357.8 147.1 359.6 145.8 361.0C144.6 362.4 142.9 363.7 141.1 364.7C139.3 365.6 136.9 366.6 134.8 366.8C132.7 367.0 130.4 366.3 128.5 365.7C126.5 365.2 125.3 364.2 123.2 363.6C121.1 363.0 115.8 362.1 115.8 362.1L115.8 341.0Z" fill="#00f790"/>
<path d="M144.3 337.3C144.3 336.0 144.3 335.3 145.3 334.7C146.4 334.1 147.6 333.9 150.6 333.6C153.6 333.4 160.1 333.1 163.2 333.1C166.4 333.1 167.6 333.1 169.5 333.6C171.5 334.1 175.0 336.1 175.0 336.1L182.2 338.4L182.2 389.9L159.5 389.9C159.5 389.9 160.3 384.9 161.1 382.6C161.9 380.3 163.4 378.4 164.3 376.3C165.1 374.2 165.8 372.2 166.4 369.9C166.9 367.7 167.5 364.9 167.4 362.6C167.3 360.3 166.5 358.3 165.8 356.3C165.1 354.2 164.4 351.8 163.2 350.5C162.1 349.2 160.8 348.6 159.0 348.4C157.2 348.1 154.5 349.0 152.7 348.9C150.8 348.8 149.2 348.9 147.9 347.8C146.7 346.8 145.9 344.3 145.3 342.6C144.7 340.8 144.3 338.6 144.3 337.3Z" fill="#00f790"/>
</g>
<g clip-path="url(#t13)">
<path d="M171.8 335.7C171.8 335.7 175.5 335.8 177.1 336.8C178.7 337.8 180.0 339.5 181.3 341.5C182.6 343.5 184.0 346.6 185.0 348.9C186.0 351.2 186.9 353.1 187.1 355.2C187.3 357.3 186.7 359.6 186.1 361.5C185.4 363.5 184.0 364.9 183.4 366.8C182.8 368.7 182.4 371.0 182.4 373.1C182.4 375.2 182.9 377.6 183.4 379.4C183.9 381.2 185.0 382.0 185.5 383.9C186.1 385.9 186.6 391.0 186.6 391.0L171.8 391.0L171.8 335.7Z" fill="#00f790"/>
<path d="M187.6 327.8C187.6 327.8 187.6 331.4 188.2 333.1C188.7 334.9 189.5 336.6 190.8 338.4C192.1 340.1 194.3 341.9 196.1 343.6C197.8 345.4 199.7 347.7 201.3 348.9C202.9 350.1 204.6 349.8 205.5 350.8C206.4 351.8 206.8 353.4 206.6 354.7C206.3 355.9 204.6 356.5 203.9 358.4C203.3 360.2 203.0 363.5 202.9 365.7C202.8 368.0 203.5 370.4 203.2 372.1C202.9 373.7 202.3 375.0 201.3 375.7C200.3 376.4 198.6 375.9 197.1 376.3C195.6 376.6 193.7 377.0 192.4 377.8C191.1 378.7 189.9 379.3 189.2 381.5C188.5 383.7 188.2 391.0 188.2 391.0L216.6 391.0C216.6 391.0 216.7 386.1 216.9 383.9C217.1 381.8 217.3 380.2 217.6 378.4C217.9 376.6 218.6 374.8 218.7 373.1C218.8 371.4 218.7 369.9 218.4 368.4C218.0 366.9 217.4 365.6 216.6 364.2C215.8 362.7 214.2 360.9 213.4 359.4C212.6 357.9 212.2 356.2 211.8 355.2C211.5 354.2 210.4 353.7 211.3 353.6C212.2 353.5 215.3 354.2 217.1 354.7C218.9 355.2 221.0 355.8 222.4 356.8C223.8 357.8 224.8 358.8 225.5 360.5C226.2 362.1 226.3 364.7 226.6 366.8C226.8 368.9 226.9 370.2 227.1 373.1C227.3 376.0 227.5 381.0 227.6 383.9C227.7 386.9 227.6 391.0 227.6 391.0L238.2 391.0L238.2 356.3L231.0 356.3C231.0 356.3 229.9 352.4 229.2 349.9C228.6 347.5 227.7 344.7 227.1 341.5C226.5 338.4 225.5 331.0 225.5 331.0L225.3 327.8L210.8 327.8C210.8 327.8 211.2 332.2 211.3 334.2C211.4 336.1 211.6 338.0 211.3 339.4C211.1 340.8 210.5 342.2 209.7 342.6C208.9 342.9 207.6 342.2 206.6 341.5C205.5 340.8 204.5 339.6 203.4 338.4C202.4 337.1 201.2 335.9 200.3 334.2C199.3 332.4 197.6 327.8 197.6 327.8L187.6 327.8Z" fill="#00f790"/>
</g>
<g clip-path="url(#t14)">
<path d="M234.1 326.8L234.1 329.0C234.1 329.0 235.0 331.9 235.5 333.5C236.0 335.2 236.7 337.0 237.0 338.8C237.3 340.5 237.3 342.3 237.4 344.1C237.5 345.8 237.3 347.7 237.7 349.3C238.2 350.9 239.2 352.4 240.1 353.8C240.9 355.3 242.2 357.0 243.0 358.3C243.8 359.5 244.8 360.3 244.9 361.4C245.0 362.5 243.8 363.7 243.7 364.9C243.7 366.1 244.2 367.2 244.5 368.6C244.8 369.9 245.4 371.2 245.6 373.0C245.9 374.8 246.0 376.1 246.1 379.1C246.1 382.1 246.1 391.0 246.1 391.0L256.2 391.0C256.2 391.0 256.5 380.8 256.6 377.5C256.6 374.3 256.5 373.1 256.6 371.5C256.7 369.9 256.9 369.0 257.3 367.8C257.8 366.7 258.6 365.9 259.2 364.8C259.8 363.7 260.8 362.4 260.9 361.2C261.0 360.0 260.5 358.4 259.9 357.4C259.4 356.5 258.4 355.7 257.3 355.4C256.2 355.1 254.6 355.4 253.5 355.6C252.5 355.8 251.6 355.8 250.9 356.6C250.1 357.4 249.5 359.4 249.0 360.3C248.5 361.1 248.3 361.5 247.8 361.7C247.4 362.0 246.2 361.9 246.1 361.7C245.9 361.5 246.3 361.1 246.8 360.5C247.3 359.8 248.3 358.7 248.9 357.8C249.5 357.0 250.7 356.2 250.6 355.3C250.5 354.4 249.1 353.5 248.3 352.3C247.4 351.0 246.0 349.2 245.6 347.8C245.3 346.5 245.9 345.6 246.1 344.1C246.2 342.5 246.9 340.5 246.8 338.8C246.7 337.0 246.1 335.2 245.3 333.5C244.6 331.9 242.3 329.0 242.3 329.0L242.3 326.8L234.1 326.8Z" fill="#00f790"/>
<path d="M227.8 358.9L231.0 359.8C231.0 359.8 233.1 360.9 234.1 361.7C235.0 362.6 236.1 363.7 236.8 364.9C237.5 366.1 238.1 367.6 238.4 369.1C238.6 370.6 238.1 372.2 238.2 373.8C238.2 375.5 238.4 376.2 238.5 379.1C238.6 382.0 238.9 391.0 238.9 391.0L227.8 391.0L227.8 358.9Z" fill="#00f790"/>
<path d="M260.5 391.0C260.5 391.0 260.5 386.2 260.7 384.3C260.9 382.3 261.4 381.0 261.8 379.1C262.3 377.2 262.9 374.6 263.3 373.0C263.8 371.4 264.0 370.2 264.5 369.3C265.0 368.4 265.7 367.9 266.4 367.7C267.1 367.6 268.0 367.9 268.6 368.6C269.1 369.2 269.5 370.0 269.7 371.5C270.0 373.0 269.9 375.4 270.1 377.5C270.2 379.6 270.4 382.0 270.5 384.3C270.6 386.5 270.6 391.0 270.6 391.0L260.5 391.0Z" fill="#00f790"/>
<path d="M250.2 326.8L250.2 329.0C250.2 329.0 252.0 331.5 252.8 332.8C253.6 334.0 254.8 335.2 255.0 336.5C255.2 337.7 254.4 339.0 254.3 340.3C254.1 341.5 253.8 343.0 253.9 344.1C254.1 345.1 254.4 345.8 255.0 346.7C255.6 347.6 256.4 348.4 257.3 349.3C258.2 350.2 259.4 351.6 260.3 352.3C261.1 352.9 261.9 353.1 262.6 353.0C263.3 352.9 264.1 352.6 264.5 351.9C264.8 351.3 265.0 350.3 264.8 349.3C264.6 348.4 263.9 347.4 263.3 346.3C262.7 345.1 261.8 343.7 261.1 342.6C260.4 341.5 259.8 340.4 259.2 339.5C258.6 338.7 257.8 338.4 257.6 337.6C257.5 336.9 257.9 335.3 258.5 335.0C259.1 334.7 260.2 335.2 261.1 335.6C262.0 336.1 263.2 336.9 264.1 337.6C264.9 338.4 265.7 339.5 266.4 340.3C267.0 341.0 267.3 341.7 267.8 341.9C268.4 342.2 269.1 342.0 269.5 341.6C270.0 341.3 270.4 340.7 270.5 339.9C270.5 339.2 270.4 338.3 269.9 337.3C269.5 336.4 268.5 335.4 267.8 334.3C267.2 333.1 265.9 330.5 265.9 330.5L265.5 326.8L250.2 326.8Z" fill="#00f790"/>
<path d="M270.1 326.8L270.1 329.0C270.1 329.0 272.1 330.5 273.1 331.2C274.1 332.0 275.4 332.4 276.1 333.5C276.7 334.7 277.0 336.7 276.9 338.1C276.8 339.4 275.9 340.7 275.3 341.7C274.7 342.7 273.5 343.2 273.1 344.1C272.7 344.9 272.5 346.0 272.7 347.0C272.9 348.0 273.8 349.0 274.4 349.9C274.9 350.9 275.5 351.5 276.1 352.6C276.6 353.7 277.3 355.0 277.6 356.5C278.0 358.0 278.1 359.9 278.1 361.5C278.1 363.2 277.9 364.6 277.6 366.3C277.4 367.9 276.7 369.8 276.5 371.5C276.2 373.3 276.1 373.5 276.1 376.8C276.0 380.0 276.1 391.0 276.1 391.0L294.2 391.0L294.2 326.8L270.1 326.8Z" fill="#00f790"/>
<path d="M287.8 329.9C287.8 329.9 285.4 331.7 284.8 332.8C284.1 333.9 283.9 335.1 283.9 336.5C284.0 337.8 284.5 339.9 285.1 341.0C285.8 342.1 287.8 342.8 287.8 342.8L287.8 329.9Z" fill="#04a0ff"/>
<path d="M279.6 345.7C279.8 345.5 280.8 345.4 281.5 345.5C282.3 345.7 283.1 346.3 284.2 346.8C285.2 347.3 287.8 348.4 287.8 348.4L287.8 355.7C287.8 355.7 286.4 355.6 285.7 355.0C285.1 354.4 284.5 353.1 283.9 352.1C283.4 351.0 283.2 349.7 282.6 348.9C282.0 348.1 281.0 347.5 280.5 347.0C280.0 346.5 279.5 346.0 279.6 345.7Z" fill="#04a0ff"/>
<path d="M287.8 377.5C287.8 377.5 285.2 378.2 284.4 378.7C283.5 379.2 283.1 379.4 282.9 380.6C282.7 381.8 282.6 384.9 283.4 385.7C284.2 386.6 287.8 385.7 287.8 385.7L287.8 377.5Z" fill="#04a0ff"/>
<path d="M271.5 361.0L272.9 359.2" fill="none" stroke="#00f790" stroke-width="2.1" stroke-linecap="round" stroke-linejoin="round"/>
</g>
<g clip-path="url(#t15)">
<path d="M292.3 326.8C292.3 326.8 291.1 331.8 290.8 333.5C290.5 335.3 290.1 336.2 290.4 337.3C290.6 338.4 291.7 339.0 292.3 340.3C292.8 341.5 293.2 343.5 293.7 344.8C294.2 346.1 294.8 347.5 295.3 348.2C295.9 348.8 296.6 348.9 297.1 348.6C297.6 348.3 298.1 347.4 298.3 346.3C298.4 345.1 298.3 343.0 297.9 341.7C297.6 340.5 296.8 339.8 296.4 338.8C296.0 337.8 295.6 336.7 295.6 335.7C295.6 334.7 296.1 333.8 296.4 332.8C296.7 331.8 297.5 329.7 297.5 329.7L297.9 326.8L292.3 326.8Z" fill="#00f790"/>
<path d="M303.8 326.8C303.8 326.8 305.3 329.8 305.8 331.2C306.4 332.6 306.9 333.7 306.9 335.0C306.9 336.3 306.2 337.5 305.8 338.8C305.5 340.1 305.0 341.3 304.7 342.6C304.4 343.8 304.1 345.2 304.2 346.3C304.2 347.3 304.5 348.5 305.0 348.9C305.5 349.3 306.4 349.1 306.9 348.6C307.4 348.0 307.7 346.7 308.1 345.5C308.4 344.4 308.4 343.0 308.8 341.7C309.2 340.5 309.8 339.2 310.3 338.1C310.8 336.9 311.4 335.9 311.8 335.0C312.3 334.1 312.3 333.2 312.9 332.8C313.5 332.4 314.8 332.6 315.5 332.4C316.2 332.1 316.8 332.1 317.1 331.2C317.4 330.3 317.5 326.8 317.5 326.8L303.8 326.8Z" fill="#00f790"/>
<path d="M317.8 326.8C317.8 326.8 317.4 331.0 317.1 332.8C316.8 334.5 316.3 335.8 315.9 337.3C315.6 338.8 315.4 340.2 315.2 341.7C315.0 343.2 315.0 344.6 314.8 346.3C314.6 347.9 314.4 349.9 314.2 351.5C313.9 353.2 313.6 354.7 313.3 356.3C313.0 357.8 312.6 359.1 312.4 361.0C312.1 362.9 311.9 365.4 311.8 367.7C311.8 370.1 311.8 372.6 311.8 375.3C311.9 378.1 312.1 381.6 312.2 384.3C312.2 386.9 312.3 391.0 312.3 391.0L315.9 391.0C315.9 391.0 315.9 386.2 315.9 384.3C316.0 382.3 316.1 381.0 316.3 379.1C316.5 377.2 316.8 375.0 317.1 373.0C317.4 371.0 317.8 369.0 318.2 367.0C318.5 365.0 318.7 362.9 319.0 361.0C319.3 359.1 319.6 357.1 319.7 355.3C319.9 353.5 320.0 351.8 320.1 350.1C320.1 348.3 319.9 346.4 320.1 344.8C320.2 343.2 320.4 341.6 320.8 340.3C321.2 338.9 321.9 337.7 322.4 336.5C322.9 335.2 323.5 334.4 323.8 332.8C324.2 331.2 324.6 326.8 324.6 326.8L317.8 326.8Z" fill="#00f790"/>
<path d="M329.4 326.8C329.4 326.8 330.0 331.0 329.8 332.8C329.7 334.5 329.1 335.8 328.7 337.3C328.2 338.8 327.6 340.2 327.2 341.7C326.8 343.2 326.4 344.6 326.1 346.3C325.7 347.9 325.6 349.8 325.3 351.5C325.0 353.3 324.7 355.0 324.4 356.8C324.0 358.5 323.6 360.2 323.2 362.1C322.8 363.9 322.6 366.1 322.2 367.8C321.8 369.6 321.2 371.0 320.8 372.6C320.4 374.2 320.0 375.6 319.7 377.5C319.5 379.5 319.4 382.0 319.3 384.3C319.2 386.5 319.2 391.0 319.2 391.0L350.2 391.0L350.2 349.1L343.0 349.1C343.0 349.1 341.9 348.9 341.1 348.9C340.3 348.9 339.0 348.8 338.2 349.1C337.3 349.4 336.6 349.8 335.8 350.8C335.1 351.8 334.2 353.7 333.6 355.3C333.0 356.9 332.6 358.7 332.3 360.6C331.9 362.5 331.7 364.5 331.4 366.8C331.1 369.1 330.6 373.5 330.4 374.2C330.1 374.9 329.9 372.8 329.9 371.0C330.0 369.2 330.6 365.7 330.8 363.6C331.0 361.6 331.2 360.4 331.3 358.8C331.4 357.2 331.3 355.4 331.2 353.8C331.2 352.3 331.0 350.9 331.0 349.3C331.0 347.7 331.1 345.7 331.3 344.1C331.5 342.4 331.7 340.9 332.1 339.5C332.4 338.1 333.1 336.9 333.6 335.7C334.1 334.6 334.7 334.3 335.1 332.8C335.5 331.3 335.8 326.8 335.8 326.8L329.4 326.8Z" fill="#00f790"/>
<path d="M283.8 354.4L287.0 355.2C287.0 355.2 288.5 355.5 289.2 356.3C289.9 357.1 290.6 358.8 291.2 360.1C291.8 361.3 292.2 362.5 292.8 363.8C293.4 365.1 293.9 366.4 294.6 367.8C295.3 369.3 296.2 371.4 297.0 372.6C297.8 373.8 298.5 374.8 299.1 375.2C299.7 375.6 300.6 375.6 300.7 375.0C300.8 374.4 300.1 373.0 299.7 371.5C299.3 370.1 298.7 368.1 298.3 366.3C297.8 364.4 297.4 362.2 297.2 360.5C297.1 358.7 297.1 357.1 297.3 355.7C297.5 354.4 297.8 353.2 298.3 352.4C298.7 351.6 299.5 351.1 300.2 351.0C300.8 350.9 301.6 350.9 302.1 351.5C302.5 352.1 302.8 353.3 303.0 354.6C303.2 355.8 303.3 357.7 303.5 359.1C303.8 360.5 304.1 361.7 304.5 363.1C304.8 364.5 305.2 365.7 305.5 367.3C305.8 368.9 306.1 370.9 306.4 372.6C306.6 374.3 306.7 375.6 306.9 377.5C307.1 379.5 307.2 382.0 307.3 384.3C307.4 386.5 307.4 391.0 307.4 391.0L283.8 391.0L283.8 374.6L287.0 374.6C287.0 374.6 289.8 375.0 290.8 374.9C291.8 374.8 292.9 374.6 293.0 373.8C293.1 373.1 292.2 371.6 291.5 370.4C290.9 369.1 290.0 367.6 289.2 366.3C288.5 364.9 287.0 362.2 287.0 362.2L283.8 360.5L283.8 354.4Z" fill="#00f790"/>
</g>
</g>
</defs>
<rect width="752" height="532" fill="#fff"/>
<g clip-path="url(#box)">
<rect x="118.6" y="163.0" width="441.4" height="221.6" fill="#04a0ff"/>
<use href="#half"/>
<use href="#half" transform="translate(679 0) scale(-1 1)"/>
<path d="M122.5 163V384.6M128.5 163V384.6M147.5 163V384.6M153.5 163V384.6M172.5 163V384.6M178.5 163V384.6M197.5 163V384.6M203.5 163V384.6M222.5 163V384.6M228.5 163V384.6M247.5 163V384.6M253.5 163V384.6M272.5 163V384.6M278.5 163V384.6M297.5 163V384.6M303.5 163V384.6M322.5 163V384.6M328.5 163V384.6M347.5 163V384.6M353.5 163V384.6M366.5 163V384.6M372.5 163V384.6M378.5 163V384.6M397.5 163V384.6M403.5 163V384.6M416.5 163V384.6M422.5 163V384.6M428.5 163V384.6M447.5 163V384.6M453.5 163V384.6M466.5 163V384.6M472.5 163V384.6M478.5 163V384.6M497.5 163V384.6M503.5 163V384.6M516.5 163V384.6M522.5 163V384.6M528.5 163V384.6M547.5 163V384.6M553.5 163V384.6M118.6 174.5H560M118.6 175.5H560M118.6 198.5H560M118.6 199.5H560M118.6 222.5H560M118.6 223.5H560M118.6 246.5H560M118.6 247.5H560M118.6 270.5H560M118.6 271.5H560M118.6 295.5H560M118.6 307.5H560M118.6 331.5H560M118.6 332.5H560M118.6 355.5H560M118.6 356.5H560M118.6 379.5H560M118.6 380.5H560" stroke="#fff" stroke-opacity="0.05" stroke-width="1" fill="none"/><path d="M134.5 163V384.6M135.5 163V384.6M146.5 163V384.6M154.5 163V384.6M165.5 163V384.6M166.5 163V384.6M184.5 163V384.6M185.5 163V384.6M196.5 163V384.6M204.5 163V384.6M215.5 163V384.6M216.5 163V384.6M234.5 163V384.6M235.5 163V384.6M246.5 163V384.6M254.5 163V384.6M265.5 163V384.6M266.5 163V384.6M284.5 163V384.6M285.5 163V384.6M296.5 163V384.6M304.5 163V384.6M315.5 163V384.6M316.5 163V384.6M334.5 163V384.6M335.5 163V384.6M346.5 163V384.6M354.5 163V384.6M365.5 163V384.6M384.5 163V384.6M385.5 163V384.6M396.5 163V384.6M404.5 163V384.6M415.5 163V384.6M434.5 163V384.6M435.5 163V384.6M446.5 163V384.6M454.5 163V384.6M465.5 163V384.6M473.5 163V384.6M484.5 163V384.6M485.5 163V384.6M496.5 163V384.6M504.5 163V384.6M515.5 163V384.6M523.5 163V384.6M534.5 163V384.6M535.5 163V384.6M546.5 163V384.6M554.5 163V384.6M118.6 164.5H560M118.6 185.5H560M118.6 188.5H560M118.6 209.5H560M118.6 212.5H560M118.6 233.5H560M118.6 236.5H560M118.6 249.5H560M118.6 257.5H560M118.6 260.5H560M118.6 273.5H560M118.6 281.5H560M118.6 284.5H560M118.6 294.5H560M118.6 297.5H560M118.6 305.5H560M118.6 308.5H560M118.6 318.5H560M118.6 321.5H560M118.6 329.5H560M118.6 342.5H560M118.6 345.5H560M118.6 353.5H560M118.6 366.5H560M118.6 369.5H560" stroke="#fff" stroke-opacity="0.10" stroke-width="1" fill="none"/><path d="M120.5 163V384.6M123.5 163V384.6M127.5 163V384.6M130.5 163V384.6M139.5 163V384.6M142.5 163V384.6M149.5 163V384.6M151.5 163V384.6M158.5 163V384.6M161.5 163V384.6M170.5 163V384.6M173.5 163V384.6M177.5 163V384.6M180.5 163V384.6M189.5 163V384.6M192.5 163V384.6M199.5 163V384.6M201.5 163V384.6M208.5 163V384.6M211.5 163V384.6M220.5 163V384.6M223.5 163V384.6M227.5 163V384.6M230.5 163V384.6M239.5 163V384.6M242.5 163V384.6M249.5 163V384.6M251.5 163V384.6M258.5 163V384.6M261.5 163V384.6M270.5 163V384.6M273.5 163V384.6M277.5 163V384.6M280.5 163V384.6M289.5 163V384.6M292.5 163V384.6M299.5 163V384.6M301.5 163V384.6M308.5 163V384.6M311.5 163V384.6M320.5 163V384.6M323.5 163V384.6M327.5 163V384.6M330.5 163V384.6M339.5 163V384.6M342.5 163V384.6M349.5 163V384.6M351.5 163V384.6M358.5 163V384.6M361.5 163V384.6M370.5 163V384.6M373.5 163V384.6M377.5 163V384.6M380.5 163V384.6M389.5 163V384.6M392.5 163V384.6M399.5 163V384.6M408.5 163V384.6M411.5 163V384.6M420.5 163V384.6M423.5 163V384.6M427.5 163V384.6M430.5 163V384.6M439.5 163V384.6M442.5 163V384.6M449.5 163V384.6M458.5 163V384.6M461.5 163V384.6M470.5 163V384.6M477.5 163V384.6M480.5 163V384.6M489.5 163V384.6M492.5 163V384.6M499.5 163V384.6M508.5 163V384.6M511.5 163V384.6M520.5 163V384.6M527.5 163V384.6M530.5 163V384.6M539.5 163V384.6M542.5 163V384.6M549.5 163V384.6M558.5 163V384.6M118.6 166.5H560M118.6 172.5H560M118.6 177.5H560M118.6 183.5H560M118.6 190.5H560M118.6 196.5H560M118.6 201.5H560M118.6 207.5H560M118.6 214.5H560M118.6 220.5H560M118.6 225.5H560M118.6 227.5H560M118.6 231.5H560M118.6 238.5H560M118.6 244.5H560M118.6 251.5H560M118.6 255.5H560M118.6 262.5H560M118.6 268.5H560M118.6 275.5H560M118.6 279.5H560M118.6 286.5H560M118.6 292.5H560M118.6 299.5H560M118.6 303.5H560M118.6 310.5H560M118.6 316.5H560M118.6 323.5H560M118.6 327.5H560M118.6 334.5H560M118.6 340.5H560M118.6 347.5H560M118.6 351.5H560M118.6 358.5H560M118.6 364.5H560M118.6 371.5H560M118.6 375.5H560M118.6 377.5H560M118.6 382.5H560" stroke="#fff" stroke-opacity="0.15" stroke-width="1" fill="none"/><path d="M125.5 163V384.6M132.5 163V384.6M137.5 163V384.6M144.5 163V384.6M156.5 163V384.6M163.5 163V384.6M168.5 163V384.6M175.5 163V384.6M182.5 163V384.6M187.5 163V384.6M194.5 163V384.6M206.5 163V384.6M213.5 163V384.6M218.5 163V384.6M225.5 163V384.6M232.5 163V384.6M237.5 163V384.6M244.5 163V384.6M256.5 163V384.6M263.5 163V384.6M268.5 163V384.6M275.5 163V384.6M282.5 163V384.6M287.5 163V384.6M294.5 163V384.6M306.5 163V384.6M313.5 163V384.6M318.5 163V384.6M325.5 163V384.6M332.5 163V384.6M337.5 163V384.6M344.5 163V384.6M356.5 163V384.6M363.5 163V384.6M368.5 163V384.6M375.5 163V384.6M382.5 163V384.6M387.5 163V384.6M394.5 163V384.6M401.5 163V384.6M406.5 163V384.6M413.5 163V384.6M418.5 163V384.6M425.5 163V384.6M432.5 163V384.6M437.5 163V384.6M444.5 163V384.6M451.5 163V384.6M456.5 163V384.6M463.5 163V384.6M468.5 163V384.6M475.5 163V384.6M482.5 163V384.6M487.5 163V384.6M494.5 163V384.6M501.5 163V384.6M506.5 163V384.6M513.5 163V384.6M518.5 163V384.6M525.5 163V384.6M532.5 163V384.6M537.5 163V384.6M544.5 163V384.6M551.5 163V384.6M556.5 163V384.6M118.6 168.5H560M118.6 170.5H560M118.6 179.5H560M118.6 181.5H560M118.6 192.5H560M118.6 194.5H560M118.6 203.5H560M118.6 205.5H560M118.6 216.5H560M118.6 218.5H560M118.6 229.5H560M118.6 240.5H560M118.6 242.5H560M118.6 253.5H560M118.6 264.5H560M118.6 266.5H560M118.6 277.5H560M118.6 288.5H560M118.6 290.5H560M118.6 301.5H560M118.6 312.5H560M118.6 314.5H560M118.6 325.5H560M118.6 336.5H560M118.6 338.5H560M118.6 349.5H560M118.6 360.5H560M118.6 362.5H560M118.6 373.5H560" stroke="#fff" stroke-opacity="0.20" stroke-width="1" fill="none"/>
</g>
<rect x="119" y="163.5" width="441" height="220.6" fill="none" stroke="#101010" stroke-opacity=".38" stroke-width="1"/>
<path d="M135.2 163.5v3.3M135.2 384.3v-3.3M152.5 163.5v7.0M152.5 384.3v-7.0M169.8 163.5v3.3M169.8 384.3v-3.3M187.0 163.5v7.0M187.0 384.3v-7.0M204.3 163.5v3.3M204.3 384.3v-3.3M221.6 163.5v7.0M221.6 384.3v-7.0M238.9 163.5v3.3M238.9 384.3v-3.3M256.2 163.5v7.0M256.2 384.3v-7.0M273.5 163.5v3.3M273.5 384.3v-3.3M290.8 163.5v7.0M290.8 384.3v-7.0M308.0 163.5v3.3M308.0 384.3v-3.3M325.3 163.5v7.0M325.3 384.3v-7.0M342.6 163.5v3.3M342.6 384.3v-3.3M359.9 163.5v7.0M359.9 384.3v-7.0M377.2 163.5v3.3M377.2 384.3v-3.3M394.5 163.5v7.0M394.5 384.3v-7.0M411.7 163.5v3.3M411.7 384.3v-3.3M429.0 163.5v7.0M429.0 384.3v-7.0M446.3 163.5v3.3M446.3 384.3v-3.3M463.6 163.5v7.0M463.6 384.3v-7.0M480.9 163.5v3.3M480.9 384.3v-3.3M498.2 163.5v7.0M498.2 384.3v-7.0M515.5 163.5v3.3M515.5 384.3v-3.3M532.7 163.5v7.0M532.7 384.3v-7.0M550.0 163.5v3.3M550.0 384.3v-3.3M119.0 369.6h3.3M560.0 369.6h-3.3M119.0 354.8h7.0M560.0 354.8h-7.0M119.0 340.1h3.3M560.0 340.1h-3.3M119.0 325.3h7.0M560.0 325.3h-7.0M119.0 310.6h3.3M560.0 310.6h-3.3M119.0 295.9h7.0M560.0 295.9h-7.0M119.0 281.1h3.3M560.0 281.1h-3.3M119.0 266.4h7.0M560.0 266.4h-7.0M119.0 251.6h3.3M560.0 251.6h-3.3M119.0 236.9h7.0M560.0 236.9h-7.0M119.0 222.2h3.3M560.0 222.2h-3.3M119.0 207.4h7.0M560.0 207.4h-7.0M119.0 192.7h3.3M560.0 192.7h-3.3M119.0 177.9h7.0M560.0 177.9h-7.0" stroke="#000" stroke-opacity=".75" stroke-width="0.9" fill="none"/>
<g class="tk"><text x="152.5" y="399.1" text-anchor="middle">1</text><text x="187.0" y="399.1" text-anchor="middle">2</text><text x="221.6" y="399.1" text-anchor="middle">3</text><text x="256.2" y="399.1" text-anchor="middle">4</text><text x="290.8" y="399.1" text-anchor="middle">5</text><text x="325.3" y="399.1" text-anchor="middle">6</text><text x="359.9" y="399.1" text-anchor="middle">7</text><text x="394.5" y="399.1" text-anchor="middle">8</text><text x="429.0" y="399.1" text-anchor="middle">9</text><text x="463.6" y="399.1" text-anchor="middle">10</text><text x="498.2" y="399.1" text-anchor="middle">11</text><text x="532.7" y="399.1" text-anchor="middle">12</text><text x="112.8" y="358.9" text-anchor="end">4</text><text x="112.8" y="329.4" text-anchor="end">8</text><text x="112.8" y="300.0" text-anchor="end">12</text><text x="112.8" y="270.5" text-anchor="end">16</text><text x="112.8" y="241.0" text-anchor="end">20</text><text x="112.8" y="211.5" text-anchor="end">24</text><text x="112.8" y="182.0" text-anchor="end">28</text><text x="591.6" y="235.9">8</text><text x="591.6" y="271.1">5</text><text x="591.6" y="294.6">3</text><text x="591.6" y="318.1">1</text><text x="591.6" y="330.1">0</text><text x="591.6" y="353.4">−2</text><text x="591.6" y="376.6">−4</text></g>
<text x="339" y="132.6" text-anchor="middle" style="font-size:20.3px;letter-spacing:1.0px;stroke-width:.55px">Vertical Velocity</text>
<text x="57.5" y="148" class="t11">(<tspan style="font-size:15.5px" dy="0.6">×</tspan><tspan dy="-0.6">1000 m)</tspan></text>
<text x="567.2" y="171.6" class="t11" style="fill:#707070;letter-spacing:1.2px">11100 s</text>
<text x="508.6" y="414.2" class="t11" style="letter-spacing:1.2px">(<tspan style="font-size:15.5px" dy="0.6">×</tspan><tspan dy="-0.6">1E4 m)</tspan></text>
<g transform="translate(286.6 435)" style="font-size:15.2px;letter-spacing:1.55px;stroke-width:.35px"><text>x</text><text transform="translate(8.8 0) scale(2.7 1)" style="stroke-width:.1px">-</text><text x="21.8">coordinate</text></g>
<g transform="translate(88.8 326.4) rotate(-90)" style="font-size:15.2px;letter-spacing:1.55px;stroke-width:.35px"><text>z</text><text transform="translate(8.8 0) scale(2.7 1)" style="stroke-width:.1px">-</text><text x="21.8">coordinate</text></g>
<rect x="570.2" y="207.6" width="14.4" height="23.7" fill="#ffb3ba"/><rect x="570.2" y="231.3" width="14.4" height="23.8" fill="#ff5a68"/><rect x="570.2" y="255.1" width="14.4" height="11.4" fill="#ff1010"/><rect x="570.2" y="266.5" width="14.4" height="12.0" fill="#ff6a10"/><rect x="570.2" y="278.5" width="14.4" height="11.5" fill="#ff9a10"/><rect x="570.2" y="290.0" width="14.4" height="11.7" fill="#ffa810"/><rect x="570.2" y="301.7" width="14.4" height="11.8" fill="#ffff18"/><rect x="570.2" y="313.5" width="14.4" height="5.8" fill="#b4ff38"/><rect x="570.2" y="319.3" width="14.4" height="6.2" fill="#00f790"/><rect x="570.2" y="325.5" width="14.4" height="11.8" fill="#04a0ff"/><rect x="570.2" y="337.3" width="14.4" height="11.5" fill="#1858ff"/><rect x="570.2" y="348.8" width="14.4" height="11.8" fill="#0a0aa0"/><rect x="570.2" y="360.6" width="14.4" height="11.4" fill="#3408b0"/><rect x="570.2" y="372.0" width="14.4" height="12.3" fill="#8a18b8"/><path d="M570.6 209.20h13.6M570.6 211.04h13.6M570.6 212.88h13.6M570.6 214.72h13.6M570.6 216.56h13.6M570.6 218.40h13.6M570.6 220.24h13.6M570.6 222.08h13.6M570.6 223.92h13.6M570.6 225.76h13.6M570.6 227.60h13.6M570.6 229.44h13.6M570.6 231.28h13.6M570.6 233.12h13.6M570.6 234.96h13.6M570.6 236.80h13.6M570.6 238.64h13.6M570.6 240.48h13.6M570.6 242.32h13.6M570.6 244.16h13.6M570.6 246.00h13.6M570.6 247.84h13.6M570.6 249.68h13.6M570.6 251.52h13.6M570.6 253.36h13.6M570.6 255.20h13.6M570.6 257.04h13.6M570.6 258.88h13.6M570.6 260.72h13.6M570.6 262.56h13.6M570.6 264.40h13.6M570.6 266.24h13.6M570.6 268.08h13.6M570.6 269.92h13.6M570.6 271.76h13.6M570.6 273.60h13.6M570.6 275.44h13.6M570.6 277.28h13.6M570.6 279.12h13.6M570.6 280.96h13.6M570.6 282.80h13.6M570.6 284.64h13.6M570.6 286.48h13.6M570.6 288.32h13.6M570.6 290.16h13.6M570.6 292.00h13.6M570.6 293.84h13.6M570.6 295.68h13.6M570.6 297.52h13.6M570.6 299.36h13.6M570.6 301.20h13.6M570.6 303.04h13.6M570.6 304.88h13.6M570.6 306.72h13.6M570.6 308.56h13.6M570.6 310.40h13.6M570.6 312.24h13.6M570.6 314.08h13.6M570.6 315.92h13.6M570.6 317.76h13.6M570.6 319.60h13.6M570.6 321.44h13.6M570.6 323.28h13.6M570.6 325.12h13.6M570.6 326.96h13.6M570.6 328.80h13.6M570.6 330.64h13.6M570.6 332.48h13.6M570.6 334.32h13.6M570.6 336.16h13.6M570.6 338.00h13.6M570.6 339.84h13.6M570.6 341.68h13.6M570.6 343.52h13.6M570.6 345.36h13.6M570.6 347.20h13.6M570.6 349.04h13.6M570.6 350.88h13.6M570.6 352.72h13.6M570.6 354.56h13.6M570.6 356.40h13.6M570.6 358.24h13.6M570.6 360.08h13.6M570.6 361.92h13.6M570.6 363.76h13.6M570.6 365.60h13.6M570.6 367.44h13.6M570.6 369.28h13.6M570.6 371.12h13.6M570.6 372.96h13.6M570.6 374.80h13.6M570.6 376.64h13.6M570.6 378.48h13.6M570.6 380.32h13.6M570.6 382.16h13.6" stroke="#fff" stroke-opacity=".2" stroke-width=".5" fill="none"/><path d="M570.2 231.3h14.4" stroke="#222" stroke-width="0.7"/><path d="M570.2 255.1h14.4" stroke="#222" stroke-width="0.7"/><path d="M570.2 266.5h14.4" stroke="#222" stroke-width="0.7"/><path d="M570.2 278.5h14.4" stroke="#222" stroke-width="0.7"/><path d="M570.2 290.0h14.4" stroke="#222" stroke-width="0.7"/><path d="M570.2 301.7h14.4" stroke="#222" stroke-width="0.7"/><path d="M570.2 313.5h14.4" stroke="#222" stroke-width="0.7"/><path d="M570.2 319.3h14.4" stroke="#222" stroke-width="0.7"/><path d="M570.2 325.5h14.4" stroke="#222" stroke-width="0.7"/><path d="M570.2 337.3h14.4" stroke="#222" stroke-width="0.7"/><path d="M570.2 348.8h14.4" stroke="#222" stroke-width="0.7"/><path d="M570.2 360.6h14.4" stroke="#222" stroke-width="0.7"/><path d="M570.2 372.0h14.4" stroke="#222" stroke-width="0.7"/>
<rect x="570.2" y="207.6" width="14.4" height="176.7" fill="none" stroke="#222" stroke-width="0.8"/>
<path d="M570.2 207.6L577.4 200L584.6 207.6Z" fill="#ffe6e6" stroke="#222" stroke-width="0.8"/>
</svg>
</body></html>
